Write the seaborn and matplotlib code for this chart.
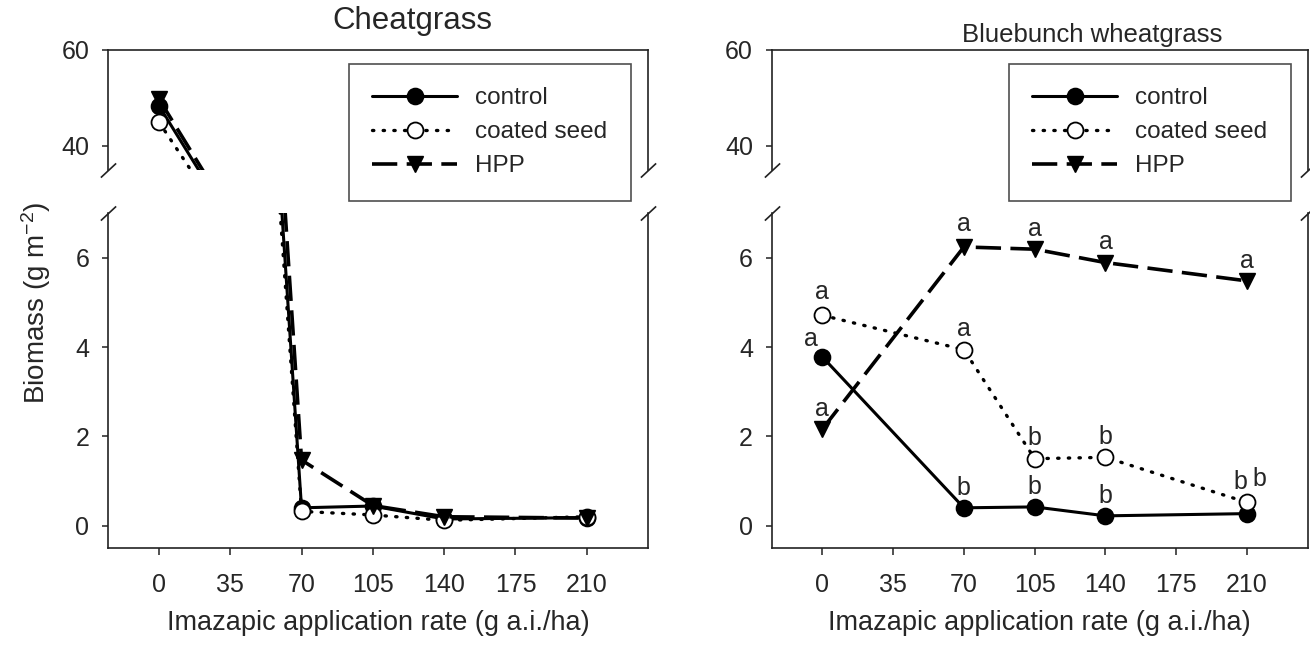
import numpy as np
import pandas as pd
import matplotlib
matplotlib.use('Agg')
import matplotlib.pyplot as plt
import seaborn as sns

# application rates (g a.i./ha)
rates = [0, 70, 105, 140, 210]
x_ticks = [0, 35, 70, 105, 140, 175, 210]

# Cheatgrass biomass (g m-2)
cheat_control = [48.4, 0.40, 0.44, 0.15, 0.18]
cheat_coated = [45.0, 0.32, 0.24, 0.12, 0.20]
cheat_hpp = [49.8, 1.47, 0.45, 0.20, 0.17]

# Bluebunch wheatgrass biomass (g m-2)
blue_control = [3.78, 0.40, 0.42, 0.22, 0.27]
blue_coated = [4.71, 3.94, 1.50, 1.53, 0.52]
blue_hpp = [2.16, 6.24, 6.19, 5.89, 5.48]

# mean separation letters (bluebunch)
blue_control_letters = ['a', 'b', 'b', 'b', 'b']
blue_coated_letters = ['a', 'a', 'b', 'b', 'b']
blue_hpp_letters = ['a', 'a', 'a', 'a', 'a']

treatments = ['control', 'coated seed', 'HPP']

sns.set_style('ticks')
plt.rcParams['font.family'] = ['Liberation Sans', 'DejaVu Sans']
plt.rcParams['mathtext.fontset'] = 'custom'
plt.rcParams['mathtext.rm'] = 'Liberation Sans'
plt.rcParams['mathtext.it'] = 'Liberation Sans:italic'

INK = '#222222'
styles = {
    'control': dict(linestyle='-', lw=2.2, marker='o', ms=11.5, mfc='black', mec='black', mew=1.2),
    'coated seed': dict(linestyle=(0, (0.4, 2.8)), lw=2.4, dash_capstyle='round', marker='o', ms=11.5,
                        mfc='white', mec='black', mew=1.3),
    'HPP': dict(linestyle=(0, (7, 2.6)), lw=2.6, marker='v', ms=12, mfc='black', mec='black', mew=1.0),
}


def long_df(ctrl, coat, hpp):
    return pd.DataFrame({
        'rate': rates * 3,
        'biomass': ctrl + coat + hpp,
        'treatment': [t for t in treatments for _ in rates],
    })


cheat = long_df(cheat_control, cheat_coated, cheat_hpp)
blue = long_df(blue_control, blue_coated, blue_hpp)

fig = plt.figure(figsize=(13.1, 6.51), dpi=100)

panel_x = [(0.0824, 0.4122), (0.5891, 0.4092)]
top_box = (0.7389, 0.1843)
bot_box = (0.1582, 0.5146)


def break_marks(ax, y):
    ax.plot([0, 1], [y, y], transform=ax.transAxes, marker=[(-1, -0.93), (1, 0.93)],
            markersize=11, linestyle='none', color=INK, mec=INK, mew=1.2, clip_on=False)


axes = []
for (x0, w), df in zip(panel_x, [cheat, blue]):
    ax_t = fig.add_axes([x0, top_box[0], w, top_box[1]])
    ax_b = fig.add_axes([x0, bot_box[0], w, bot_box[1]])
    for ax in (ax_t, ax_b):
        for t in treatments:
            sub = df[df['treatment'] == t]
            sns.lineplot(data=sub, x='rate', y='biomass', ax=ax, color='black',
                         label=t, legend=False, zorder=3, **styles[t])
        ax.set_xlim(-25, 240)
        ax.set_xlabel('')
        ax.set_ylabel('')
        for s in ax.spines.values():
            s.set_color(INK)
            s.set_linewidth(1.2)
        ax.tick_params(axis='y', direction='out', length=4.5, width=1.1, color=INK,
                       labelsize=18, pad=9, right=False)
    ax_t.set_ylim(35, 60)
    ax_t.set_yticks([40, 60])
    ax_t.spines['bottom'].set_visible(False)
    ax_t.tick_params(axis='x', bottom=False, labelbottom=False)
    ax_b.set_ylim(-0.5, 7)
    ax_b.set_yticks([0, 2, 4, 6])
    ax_b.spines['top'].set_visible(False)
    ax_b.set_xticks(x_ticks)
    ax_b.tick_params(axis='x', direction='out', length=5, width=1.1, color=INK,
                     labelsize=18, pad=13)
    ax_b.set_xlabel('Imazapic application rate (g a.i./ha)', fontsize=19.5, labelpad=9)
    break_marks(ax_t, 0)
    break_marks(ax_b, 1)
    axes.append((ax_t, ax_b))

# letters on bluebunch panel
nudges = {('control', 0): (-8, 8), ('control', 210): (-4.5, 18),
          ('coated seed', 210): (8.5, 12), ('coated seed', 0): (0, 12),
          ('HPP', 70): (0, 11.5)}
ax_blue = axes[1][1]
for t, vals, lets in [('control', blue_control, blue_control_letters),
                      ('coated seed', blue_coated, blue_coated_letters),
                      ('HPP', blue_hpp, blue_hpp_letters)]:
    for r, v, l in zip(rates, vals, lets):
        dx, dy = nudges.get((t, r), (0, 9.5))
        ax_blue.annotate(l, (r, v), xytext=(dx, dy), textcoords='offset points',
                         ha='center', va='baseline', fontsize=18, zorder=5)

# titles and shared y label
fig.text(0.3145, 0.967, 'Cheatgrass', ha='center', va='center', fontsize=22.5)
fig.text(0.834, 0.947, 'Bluebunch wheatgrass', ha='center', va='center', fontsize=18.5)
fig.text(0.0275, 0.535, 'Biomass (g m$^{\\mathregular{-2}}$)', rotation=90,
         ha='center', va='center', fontsize=20)

# legends
handles, labels = axes[0][1].get_legend_handles_labels()
for lx in [0.2664, 0.7702]:
    leg = fig.legend(handles, labels, loc='upper left', bbox_to_anchor=(lx, 0.9017),
                     frameon=True, fancybox=False, edgecolor=INK, fontsize=17.5,
                     handlelength=3.5, handletextpad=0.75, labelspacing=0.5,
                     borderpad=0.95, borderaxespad=0, numpoints=1)
    leg.get_frame().set_linewidth(1.2)

fig.savefig('out.png', dpi=100)
